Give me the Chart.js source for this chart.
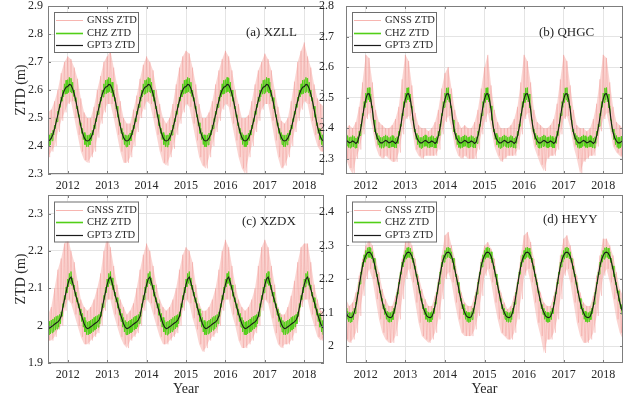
<!DOCTYPE html>
<html>
<head>
<meta charset="utf-8">
<title>ZTD time series</title>
<script src="https://cdn.jsdelivr.net/npm/chart.js@4.4.1/dist/chart.umd.min.js"></script>
<style>
  html, body { margin: 0; padding: 0; background: #fff; }
  #wrap { position: relative; width: 642px; height: 402px; overflow: hidden; }
  #wrap canvas { position: absolute; }
</style>
</head>
<body>
<div id="wrap">
  <canvas id="panelA" width="330" height="195" style="left:0;top:0"></canvas>
  <canvas id="panelB" width="330" height="195" style="left:312px;top:0"></canvas>
  <canvas id="panelC" width="330" height="222" style="left:0;top:180px"></canvas>
  <canvas id="panelD" width="330" height="222" style="left:312px;top:180px"></canvas>
</div>
<script>
// ---- data ----
const seriesNames = ['GNSS ZTD', 'CHZ ZTD', 'GPT3 ZTD'];
const yearTicks = [2012, 2013, 2014, 2015, 2016, 2017, 2018];
const ticksA = [2.3, 2.4, 2.5, 2.6, 2.7, 2.8, 2.9];
const ticksB = [2.3, 2.4, 2.5, 2.6, 2.7, 2.8];
const ticksC = [1.9, 2, 2.1, 2.2, 2.3];
const ticksD = [2, 2.1, 2.2, 2.3, 2.4];

// GNSS: monthly upper / lower extent of the noisy daily series, 2011.5 .. 2018.5
const gnssHiA = [2.52, 2.53, 2.56, 2.60, 2.66, 2.70, 2.72, 2.71, 2.68, 2.64, 2.57, 2.52,
  2.50, 2.50, 2.54, 2.60, 2.65, 2.70, 2.72, 2.74, 2.68, 2.62, 2.56, 2.50,
  2.48, 2.48, 2.53, 2.58, 2.64, 2.69, 2.72, 2.70, 2.67, 2.60, 2.55, 2.50,
  2.48, 2.50, 2.55, 2.62, 2.68, 2.72, 2.74, 2.73, 2.68, 2.62, 2.55, 2.50,
  2.50, 2.52, 2.56, 2.62, 2.67, 2.71, 2.74, 2.72, 2.67, 2.60, 2.55, 2.50,
  2.50, 2.51, 2.56, 2.62, 2.67, 2.70, 2.73, 2.71, 2.67, 2.60, 2.54, 2.49,
  2.48, 2.50, 2.56, 2.63, 2.70, 2.74, 2.77, 2.72, 2.68, 2.62, 2.57, 2.55, 2.54];
const gnssLoA = [2.36, 2.38, 2.40, 2.45, 2.49, 2.52, 2.55, 2.56, 2.50, 2.44, 2.38, 2.35,
  2.34, 2.36, 2.38, 2.43, 2.48, 2.52, 2.55, 2.55, 2.50, 2.44, 2.38, 2.34,
  2.34, 2.36, 2.40, 2.45, 2.50, 2.53, 2.56, 2.55, 2.50, 2.44, 2.38, 2.34,
  2.33, 2.36, 2.39, 2.44, 2.48, 2.52, 2.55, 2.54, 2.48, 2.42, 2.36, 2.33,
  2.32, 2.36, 2.40, 2.45, 2.49, 2.53, 2.55, 2.54, 2.48, 2.42, 2.36, 2.32,
  2.30, 2.36, 2.40, 2.45, 2.49, 2.53, 2.55, 2.55, 2.49, 2.42, 2.36, 2.32,
  2.33, 2.36, 2.40, 2.45, 2.49, 2.53, 2.56, 2.55, 2.49, 2.44, 2.40, 2.38, 2.38];

const gnssHiB = [2.40, 2.41, 2.40, 2.42, 2.47, 2.55, 2.64, 2.63, 2.55, 2.46, 2.42, 2.41,
  2.40, 2.40, 2.41, 2.43, 2.47, 2.56, 2.64, 2.62, 2.54, 2.45, 2.41, 2.40,
  2.40, 2.39, 2.40, 2.42, 2.46, 2.53, 2.58, 2.60, 2.53, 2.46, 2.42, 2.40,
  2.41, 2.40, 2.40, 2.42, 2.46, 2.53, 2.60, 2.64, 2.54, 2.46, 2.42, 2.40,
  2.40, 2.40, 2.41, 2.43, 2.47, 2.55, 2.64, 2.62, 2.55, 2.46, 2.42, 2.41,
  2.40, 2.40, 2.41, 2.43, 2.48, 2.56, 2.64, 2.62, 2.54, 2.46, 2.41, 2.40,
  2.40, 2.39, 2.40, 2.43, 2.48, 2.56, 2.64, 2.63, 2.55, 2.47, 2.42, 2.41, 2.40];
const gnssLoB = [2.30, 2.27, 2.25, 2.30, 2.33, 2.38, 2.43, 2.45, 2.40, 2.34, 2.31, 2.30,
  2.31, 2.30, 2.29, 2.29, 2.32, 2.38, 2.43, 2.44, 2.40, 2.33, 2.31, 2.30,
  2.31, 2.31, 2.31, 2.31, 2.33, 2.38, 2.42, 2.44, 2.40, 2.34, 2.31, 2.30,
  2.31, 2.30, 2.30, 2.30, 2.33, 2.38, 2.42, 2.45, 2.40, 2.34, 2.31, 2.29,
  2.30, 2.31, 2.31, 2.31, 2.33, 2.38, 2.43, 2.45, 2.40, 2.34, 2.31, 2.28,
  2.26, 2.30, 2.31, 2.31, 2.33, 2.38, 2.43, 2.44, 2.40, 2.34, 2.30, 2.25,
  2.29, 2.30, 2.31, 2.31, 2.34, 2.39, 2.43, 2.45, 2.40, 2.34, 2.32, 2.31, 2.30];

const gnssHiC = [2.03, 2.05, 2.10, 2.15, 2.18, 2.22, 2.24, 2.20, 2.17, 2.12, 2.07, 2.05,
  2.04, 2.05, 2.07, 2.10, 2.14, 2.20, 2.24, 2.21, 2.16, 2.11, 2.07, 2.05,
  2.03, 2.04, 2.06, 2.10, 2.15, 2.19, 2.22, 2.20, 2.16, 2.11, 2.07, 2.05,
  2.04, 2.05, 2.07, 2.10, 2.15, 2.19, 2.21, 2.20, 2.17, 2.11, 2.06, 2.04,
  2.04, 2.05, 2.07, 2.10, 2.15, 2.20, 2.23, 2.21, 2.16, 2.11, 2.07, 2.05,
  2.04, 2.05, 2.07, 2.10, 2.16, 2.21, 2.23, 2.21, 2.16, 2.11, 2.05, 2.03,
  2.03, 2.05, 2.08, 2.12, 2.17, 2.21, 2.22, 2.22, 2.17, 2.11, 2.07, 2.04, 2.04];
const gnssLoC = [1.96, 1.96, 1.97, 1.99, 2.00, 2.04, 2.07, 2.06, 2.03, 2.00, 1.97, 1.95,
  1.95, 1.96, 1.97, 1.98, 2.00, 2.04, 2.07, 2.07, 2.03, 2.00, 1.97, 1.95,
  1.94, 1.96, 1.97, 1.98, 2.00, 2.04, 2.07, 2.06, 2.03, 2.00, 1.97, 1.95,
  1.95, 1.96, 1.97, 1.98, 2.00, 2.04, 2.07, 2.06, 2.02, 1.99, 1.95, 1.93,
  1.94, 1.96, 1.97, 1.98, 2.00, 2.04, 2.07, 2.07, 2.03, 2.00, 1.96, 1.94,
  1.94, 1.95, 1.96, 1.98, 2.00, 2.04, 2.07, 2.06, 2.02, 1.98, 1.95, 1.94,
  1.95, 1.95, 1.96, 1.98, 2.01, 2.05, 2.07, 2.07, 2.03, 2.00, 1.97, 1.96, 1.97];

const gnssHiD = [2.14, 2.12, 2.13, 2.16, 2.21, 2.26, 2.30, 2.32, 2.30, 2.26, 2.22, 2.17,
  2.14, 2.12, 2.12, 2.15, 2.20, 2.26, 2.31, 2.33, 2.30, 2.26, 2.21, 2.17,
  2.14, 2.12, 2.12, 2.15, 2.20, 2.27, 2.33, 2.34, 2.30, 2.26, 2.21, 2.16,
  2.13, 2.12, 2.12, 2.15, 2.20, 2.26, 2.30, 2.31, 2.29, 2.26, 2.20, 2.16,
  2.13, 2.11, 2.12, 2.15, 2.20, 2.27, 2.33, 2.34, 2.31, 2.26, 2.20, 2.16,
  2.13, 2.12, 2.12, 2.15, 2.20, 2.27, 2.32, 2.33, 2.30, 2.26, 2.21, 2.16,
  2.13, 2.12, 2.12, 2.15, 2.21, 2.27, 2.32, 2.32, 2.30, 2.27, 2.22, 2.17, 2.15];
const gnssLoD = [2.02, 2.01, 2.02, 2.04, 2.09, 2.15, 2.20, 2.23, 2.20, 2.14, 2.08, 2.04,
  2.02, 2.01, 2.01, 2.03, 2.08, 2.14, 2.20, 2.23, 2.19, 2.13, 2.07, 2.03,
  2.02, 2.01, 2.02, 2.04, 2.08, 2.14, 2.20, 2.22, 2.19, 2.13, 2.08, 2.04,
  2.03, 2.03, 2.03, 2.05, 2.09, 2.15, 2.21, 2.23, 2.19, 2.13, 2.08, 2.04,
  2.03, 2.02, 2.02, 2.04, 2.08, 2.14, 2.21, 2.23, 2.19, 2.13, 2.07, 2.03,
  1.98, 2.02, 2.02, 2.04, 2.08, 2.14, 2.21, 2.23, 2.19, 2.13, 2.07, 2.03,
  2.01, 2.01, 2.02, 2.04, 2.09, 2.15, 2.21, 2.23, 2.19, 2.14, 2.08, 2.04, 2.02];

// GPT3 is a climatology: the same annual curve every year (24 steps per year from Jan 1)
const gpt3A = [2.612, 2.62, 2.618, 2.605, 2.585, 2.56, 2.53, 2.50, 2.47, 2.448, 2.43, 2.42,
  2.418, 2.42, 2.428, 2.442, 2.462, 2.486, 2.512, 2.538, 2.562, 2.585, 2.60, 2.61];
const gpt3B = [2.495, 2.512, 2.513, 2.495, 2.46, 2.415, 2.385, 2.368, 2.358, 2.352, 2.352, 2.356,
  2.36, 2.357, 2.352, 2.354, 2.358, 2.355, 2.35, 2.355, 2.375, 2.40, 2.435, 2.47];
const gpt3C = [2.11, 2.125, 2.13, 2.115, 2.098, 2.08, 2.065, 2.048, 2.032, 2.018, 2.005, 1.996,
  1.992, 1.994, 1.997, 2.0, 2.004, 2.007, 2.01, 2.015, 2.025, 2.048, 2.07, 2.09];
const gpt3D = [2.27, 2.278, 2.28, 2.277, 2.268, 2.25, 2.228, 2.205, 2.18, 2.155, 2.132, 2.113,
  2.10, 2.09, 2.086, 2.085, 2.088, 2.10, 2.12, 2.15, 2.18, 2.21, 2.238, 2.258];

// CHZ: upper / lower edge of its (thin, noisy) band over the year
const chzHiA = [2.637, 2.645, 2.642, 2.628, 2.60, 2.573, 2.542, 2.512, 2.483, 2.463, 2.448, 2.44,
  2.438, 2.44, 2.446, 2.456, 2.475, 2.498, 2.524, 2.55, 2.575, 2.60, 2.622, 2.635];
const chzLoA = [2.591, 2.594, 2.589, 2.577, 2.56, 2.533, 2.503, 2.473, 2.445, 2.423, 2.405, 2.397,
  2.397, 2.404, 2.419, 2.439, 2.462, 2.487, 2.513, 2.538, 2.56, 2.575, 2.585, 2.587];
const chzHiB = [2.515, 2.532, 2.533, 2.512, 2.473, 2.427, 2.397, 2.383, 2.376, 2.37, 2.37, 2.374,
  2.378, 2.375, 2.37, 2.372, 2.376, 2.373, 2.368, 2.372, 2.39, 2.413, 2.448, 2.487];
const chzLoB = [2.484, 2.493, 2.486, 2.466, 2.426, 2.388, 2.363, 2.346, 2.337, 2.334, 2.336, 2.34,
  2.341, 2.337, 2.335, 2.338, 2.339, 2.335, 2.335, 2.35, 2.376, 2.406, 2.441, 2.468];
const chzHiC = [2.125, 2.14, 2.145, 2.128, 2.109, 2.09, 2.075, 2.059, 2.045, 2.033, 2.022, 2.014,
  2.01, 2.012, 2.015, 2.018, 2.022, 2.025, 2.027, 2.03, 2.037, 2.059, 2.081, 2.103];
const chzLoC = [2.104, 2.113, 2.108, 2.097, 2.079, 2.063, 2.047, 2.028, 2.011, 1.996, 1.983, 1.976,
  1.975, 1.978, 1.981, 1.984, 1.988, 1.991, 1.996, 2.005, 2.025, 2.049, 2.07, 2.088];
const chzHiD = [2.285, 2.293, 2.295, 2.292, 2.281, 2.262, 2.239, 2.215, 2.19, 2.165, 2.142, 2.124,
  2.113, 2.104, 2.101, 2.10, 2.103, 2.113, 2.131, 2.16, 2.19, 2.221, 2.25, 2.272];
const chzLoD = [2.259, 2.264, 2.264, 2.26, 2.249, 2.229, 2.207, 2.183, 2.158, 2.134, 2.111, 2.094,
  2.08, 2.073, 2.071, 2.072, 2.079, 2.097, 2.125, 2.155, 2.185, 2.214, 2.236, 2.25];

const firstMonth = 2011.5;
const years = [2011, 2012, 2013, 2014, 2015, 2016, 2017, 2018];

// ---- styling ----
const FONT = "'Liberation Serif', 'Times New Roman', serif";
const TEXT = '#262626';
const AXIS = '#7d7d7d';
const GRID = '#e4e4e4';
const COLORS = {
  gnss: 'rgba(240,140,135,0.3)',
  gnssBand: 'rgba(247,172,166,0.5)',
  chz: '#52cf17',
  gpt3: '#1a1a1a'
};

// monthly hi/lo pairs -> one zig-zag trace
function gnssTrace(hi, lo) {
  const pts = [];
  hi.forEach((v, i) => {
    pts.push({ x: firstMonth + i / 12, y: v });
    pts.push({ x: firstMonth + (i + 0.5) / 12, y: lo[i] });
  });
  return pts;
}

function monthly(vals) {
  return vals.map((v, i) => ({ x: firstMonth + i / 12, y: v }));
}

function annualTrace(profile) {
  const pts = [];
  years.forEach(y => profile.forEach((v, k) => pts.push({ x: y + k / 24, y: v })));
  return pts;
}

function chzTrace(hi, lo) {
  const pts = [];
  years.forEach(y => hi.forEach((v, k) => {
    pts.push({ x: y + k / 24, y: v });
    pts.push({ x: y + (k + 0.5) / 24, y: lo[k] });
  }));
  return pts;
}

/* MATLAB-ish box, inward ticks, legend and panel tag */
const matlabFrame = {
  id: 'matlabFrame',
  afterDraw(chart, args, opts) {
    const { ctx, chartArea: a, scales } = chart;
    ctx.save();
    ctx.strokeStyle = AXIS;
    ctx.lineWidth = 1;
    ctx.beginPath();
    scales.x.ticks.forEach(t => {
      const px = Math.round(scales.x.getPixelForValue(t.value)) + 0.5;
      ctx.moveTo(px, a.bottom); ctx.lineTo(px, a.bottom - 3);
      ctx.moveTo(px, a.top); ctx.lineTo(px, a.top + 3);
    });
    scales.y.ticks.forEach(t => {
      const py = Math.round(scales.y.getPixelForValue(t.value)) + 0.5;
      ctx.moveTo(a.left, py); ctx.lineTo(a.left + 3, py);
      ctx.moveTo(a.right, py); ctx.lineTo(a.right - 3, py);
    });
    ctx.stroke();
    ctx.strokeRect(a.left + 0.5, a.top + 0.5, a.right - a.left - 1, a.bottom - a.top - 1);

    // legend box
    const lx = a.left + 6, ly = a.top + opts.legendDy;
    ctx.fillStyle = '#fff';
    ctx.fillRect(lx, ly, 84, 40);
    ctx.strokeStyle = '#6e6e6e';
    ctx.strokeRect(lx + 0.5, ly + 0.5, 84, 40);
    ctx.font = '10.5px ' + FONT;
    ctx.textBaseline = 'middle';
    ctx.textAlign = 'left';
    seriesNames.forEach((name, r) => {
      const ds = chart.data.datasets.find(d => d.label === name);
      const ry = Math.round(ly + 8 + r * 12.6) + 0.5;
      ctx.strokeStyle = ds.legendColor;
      ctx.lineWidth = ds.legendWidth;
      ctx.beginPath();
      ctx.moveTo(lx + 2, ry); ctx.lineTo(lx + 29, ry);
      ctx.stroke();
      ctx.fillStyle = TEXT;
      ctx.fillText(name, lx + 33, ry);
    });

    ctx.font = '13px ' + FONT;
    ctx.fillStyle = TEXT;
    ctx.fillText(opts.tag, a.left + opts.tagDx, a.top + opts.tagDy);
    ctx.restore();
  }
};

function makePanel(id, p) {
  new Chart(document.getElementById(id), {
    type: 'line',
    data: {
      datasets: [
        { label: seriesNames[2], data: annualTrace(p.gpt3), borderColor: COLORS.gpt3, borderWidth: 1.1,
          legendColor: COLORS.gpt3, legendWidth: 1.2, order: 1 },
        { label: seriesNames[1], data: chzTrace(p.chzHi, p.chzLo), borderColor: COLORS.chz, borderWidth: 1,
          legendColor: COLORS.chz, legendWidth: 1.6, order: 2 },
        { label: seriesNames[0], data: gnssTrace(p.gnssHi, p.gnssLo), borderColor: COLORS.gnss, borderWidth: 1,
          legendColor: '#f7b5b0', legendWidth: 1, order: 3 },
        // soft envelope behind the GNSS trace
        { label: 'gnss-hi', data: monthly(p.gnssHi), borderWidth: 0, fill: '+1',
          backgroundColor: COLORS.gnssBand, order: 4 },
        { label: 'gnss-lo', data: monthly(p.gnssLo), borderWidth: 0, fill: false, order: 5 }
      ]
    },
    options: {
      responsive: false,
      animation: false,
      devicePixelRatio: 1,
      elements: { point: { radius: 0 }, line: { tension: 0 } },
      layout: { padding: { top: p.padTop, right: p.padRight, left: 0, bottom: 0 } },
      plugins: {
        legend: { display: false },
        tooltip: { enabled: false },
        matlabFrame: { tag: p.tag, tagDx: p.tagDx, tagDy: p.tagDy, legendDy: p.legendDy }
      },
      scales: {
        x: {
          type: 'linear',
          min: 2011.5,
          max: 2018.5,
          afterBuildTicks: s => { s.ticks = yearTicks.map(v => ({ value: v })); },
          afterFit: s => { s.height = p.xHeight; s.paddingLeft = 0; s.paddingRight = 0; },
          grid: { color: GRID, drawTicks: false },
          border: { display: false },
          ticks: { padding: 5, color: TEXT, font: { family: FONT, size: 12 }, maxRotation: 0,
            callback: v => String(v) },
          title: { display: p.xTitle, text: 'Year', color: TEXT, font: { family: FONT, size: 14 },
            padding: { top: 0, bottom: 4.5 } }
        },
        y: {
          min: p.yMin,
          max: p.yMax,
          afterBuildTicks: s => { s.ticks = p.yTicks.map(v => ({ value: v })); },
          afterFit: s => { s.width = p.yWidth; s.paddingTop = 0; s.paddingBottom = 0; },
          grid: { color: GRID, drawTicks: false },
          border: { display: false },
          ticks: { padding: p.yPad, color: TEXT, font: { family: FONT, size: 12 },
            callback: v => String(+v.toFixed(2)) },
          title: { display: p.yTitle, text: 'ZTD (m)', color: TEXT, font: { family: FONT, size: 14 },
            padding: { top: 12.5, bottom: 0 } }
        }
      }
    },
    plugins: [matlabFrame]
  });
}

makePanel('panelA', {
  gpt3: gpt3A, chzHi: chzHiA, chzLo: chzLoA, gnssHi: gnssHiA, gnssLo: gnssLoA,
  yMin: 2.3, yMax: 2.9, yTicks: ticksA, tag: '(a) XZLL', tagDx: 198, tagDy: 27, legendDy: 6,
  padTop: 6, padRight: 6, yWidth: 48, yPad: 5, xHeight: 21, xTitle: false, yTitle: true
});
makePanel('panelB', {
  gpt3: gpt3B, chzHi: chzHiB, chzLo: chzLoB, gnssHi: gnssHiB, gnssLo: gnssLoB,
  yMin: 2.25, yMax: 2.8, yTicks: ticksB, tag: '(b) QHGC', tagDx: 193, tagDy: 27, legendDy: 6,
  padTop: 6, padRight: 19, yWidth: 34, yPad: 12, xHeight: 21, xTitle: false, yTitle: false
});
makePanel('panelC', {
  gpt3: gpt3C, chzHi: chzHiC, chzLo: chzLoC, gnssHi: gnssHiC, gnssLo: gnssLoC,
  yMin: 1.9, yMax: 2.35, yTicks: ticksC, tag: '(c) XZDX', tagDx: 194, tagDy: 26.5, legendDy: 6.5,
  padTop: 15, padRight: 6, yWidth: 48, yPad: 5, xHeight: 39, xTitle: true, yTitle: true
});
makePanel('panelD', {
  gpt3: gpt3D, chzHi: chzHiD, chzLo: chzLoD, gnssHi: gnssHiD, gnssLo: gnssLoD,
  yMin: 1.95, yMax: 2.45, yTicks: ticksD, tag: '(d) HEYY', tagDx: 197, tagDy: 24.5, legendDy: 6.5,
  padTop: 15, padRight: 19, yWidth: 34, yPad: 12, xHeight: 39, xTitle: true, yTitle: false
});
</script>
</body>
</html>
